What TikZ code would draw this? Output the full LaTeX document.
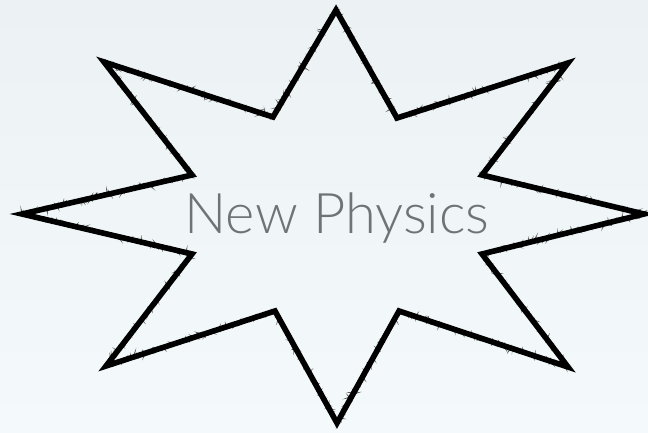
\documentclass[tikz,border=0pt]{standalone}
\usepackage{fontspec}
\newfontfamily\gillfont[UprightFont={* Light}]{Lato}
\usetikzlibrary{decorations.pathmorphing}
\definecolor{bgtop}{HTML}{ECF2F4}
\definecolor{bgbot}{HTML}{F4FAFB}
\definecolor{textgray}{HTML}{6E7475}
\begin{document}
\begin{tikzpicture}[x=1pt,y=-1pt,
  starline/.style={draw=black,line width=5.6pt,line join=miter,miter limit=20},
  roughline/.style={draw=black,line width=1.6pt,opacity=0.6,
    decorate,decoration={random steps,segment length=1.2pt,amplitude=1.5pt}},
  label/.style={text=textgray,font=\gillfont\fontsize{56}{66}\selectfont,inner sep=0pt}]
\shade[top color=bgtop,bottom color=bgbot]
  (0,0) rectangle (648,432);
\useasboundingbox (0,0) rectangle (648,432);
\def\starpath{(336,10) -- (397,118) -- (568,63) -- (482,175) -- (644,214) -- (482,254)
  -- (568,367) -- (399,311) -- (337,423) -- (275,311) -- (106,366) -- (192,254)
  -- (22,214) -- (192,175) -- (104,62) -- (273,117) -- cycle}
\path[starline] \starpath;
\foreach \s in {1,2,3,4}{
  \pgfmathsetseed{\s*23}
  \path[roughline] \starpath;
}
\node[label] (title) at (337,218) {New Physics};
\end{tikzpicture}
\end{document}
